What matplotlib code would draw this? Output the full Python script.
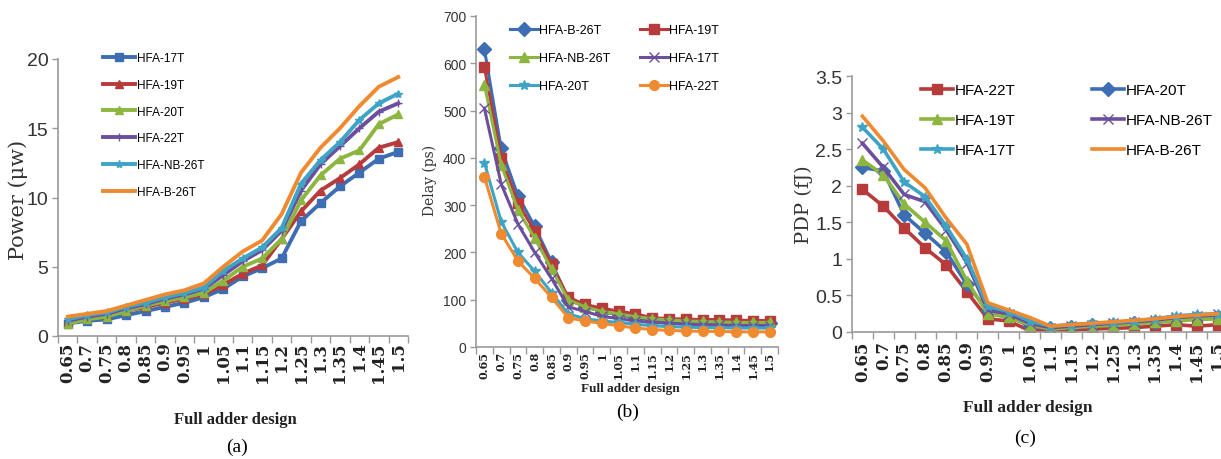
import matplotlib
matplotlib.use("Agg")
import matplotlib.pyplot as plt


VDD = ["0.65", "0.7", "0.75", "0.8", "0.85", "0.9", "0.95", "1", "1.05",
       "1.1", "1.15", "1.2", "1.25", "1.3", "1.35", "1.4", "1.45", "1.5"]

# ==============================
# (a) POWER (uW)
# ==============================
POWER_17T = [0.9, 1.1, 1.2, 1.5, 1.8, 2.1, 2.4, 2.8, 3.4, 4.3, 4.9, 5.6, 8.3, 9.6, 10.8, 11.8, 12.8, 13.3]
POWER_19T = [1.0, 1.3, 1.5, 1.8, 2.1, 2.4, 2.7, 3.0, 3.7, 4.5, 5.1, 7.0, 9.0, 10.5, 11.4, 12.4, 13.6, 14.0]
POWER_20T = [0.9, 1.2, 1.4, 1.8, 2.2, 2.5, 2.8, 3.1, 4.0, 5.0, 5.6, 7.0, 9.8, 11.6, 12.8, 13.4, 15.3, 16.0]
POWER_22T = [1.1, 1.4, 1.6, 2.0, 2.3, 2.7, 3.0, 3.4, 4.4, 5.4, 6.2, 7.6, 10.5, 12.4, 13.7, 15.0, 16.2, 16.8]
POWER_NB26T = [1.2, 1.5, 1.7, 2.1, 2.4, 2.8, 3.1, 3.5, 4.7, 5.6, 6.4, 7.8, 11.0, 12.7, 14.0, 15.6, 16.8, 17.5]
POWER_B26T = [1.4, 1.6, 1.8, 2.2, 2.6, 3.0, 3.3, 3.8, 5.0, 6.1, 6.9, 8.8, 11.8, 13.6, 15.0, 16.6, 18.0, 18.7]

# ==============================
# (b) DELAY (ps)
# ==============================
DELAY_B26T = [630, 420, 320, 255, 180, 100, 85, 75, 68, 62, 58, 55, 53, 52, 51, 50, 50, 50]
DELAY_19T = [592, 400, 305, 245, 175, 105, 90, 82, 76, 70, 62, 60, 59, 58, 58, 57, 56, 56]
DELAY_NB26T = [555, 385, 290, 230, 165, 100, 85, 75, 70, 64, 60, 57, 55, 54, 53, 52, 52, 52]
DELAY_17T = [505, 345, 260, 200, 145, 85, 75, 65, 60, 55, 52, 50, 48, 47, 46, 45, 45, 45]
DELAY_20T = [390, 265, 200, 160, 115, 70, 60, 55, 52, 48, 45, 43, 42, 41, 41, 40, 40, 40]
DELAY_22T = [360, 240, 182, 145, 105, 62, 55, 50, 45, 40, 37, 35, 34, 33, 33, 32, 32, 32]

# ==============================
# (c) PDP (fJ)
# ==============================
PDP_22T = [1.95, 1.72, 1.42, 1.15, 0.92, 0.55, 0.18, 0.15, 0.02, 0.02, 0.03, 0.04, 0.05, 0.06, 0.08, 0.10, 0.08, 0.10]
PDP_20T = [2.25, 2.20, 1.60, 1.35, 1.10, 0.65, 0.30, 0.22, 0.08, 0.05, 0.07, 0.09, 0.10, 0.12, 0.14, 0.17, 0.19, 0.20]
PDP_19T = [2.35, 2.15, 1.75, 1.50, 1.25, 0.70, 0.25, 0.20, 0.10, 0.04, 0.06, 0.08, 0.09, 0.11, 0.13, 0.15, 0.17, 0.18]
PDP_NB26T = [2.58, 2.25, 1.88, 1.78, 1.40, 0.95, 0.30, 0.25, 0.12, 0.06, 0.08, 0.10, 0.12, 0.14, 0.16, 0.20, 0.22, 0.24]
PDP_17T = [2.80, 2.50, 2.05, 1.85, 1.45, 1.00, 0.35, 0.28, 0.15, 0.08, 0.10, 0.12, 0.13, 0.15, 0.18, 0.22, 0.24, 0.25]
PDP_B26T = [2.95, 2.61, 2.22, 1.97, 1.56, 1.20, 0.40, 0.30, 0.20, 0.08, 0.10, 0.12, 0.14, 0.16, 0.18, 0.21, 0.23, 0.25]

AZUL = "#3d6db3"
VERMELHO = "#b83b3b"
VERDE = "#8db640"
ROXO = "#6c4f9c"
CIANO = "#3ea4c6"
LARANJA = "#f08a30"

SANS = ["Liberation Sans Narrow", "Liberation Sans", "DejaVu Sans"]
SERIF = ["DejaVu Serif"]
TIMES = ["Liberation Serif", "DejaVu Serif"]
CINZA = "#9a9a9a"


def estilo_eixo(ax, ymax, ystep, ytick_fmt, ysize, xsize, xpad):
    n = len(VDD)
    ax.set_xlim(-0.5, n - 0.5)
    ax.set_ylim(0, ymax)
    ax.set_xticks(range(n))
    ax.set_xticklabels(VDD, rotation=90, fontsize=xsize, family=SERIF,
                       fontweight="bold", color="#222222")
    ax.set_xticks([i - 0.5 for i in range(n + 1)], minor=True)
    ax.tick_params(axis="x", which="major", length=0, pad=xpad)
    ax.tick_params(axis="x", which="minor", length=5, width=1, color=CINZA, direction="out")

    valores = []
    v = 0.0
    while v <= ymax + 1e-9:
        valores.append(v)
        v += ystep
    ax.set_yticks(valores)
    ax.set_yticklabels([ytick_fmt(x) for x in valores], fontsize=ysize, family=SANS, color="#333333")
    ax.tick_params(axis="y", length=4, width=1, color=CINZA, direction="out", pad=3)

    for lado in ["top", "right"]:
        ax.spines[lado].set_visible(False)
    for lado in ["left", "bottom"]:
        ax.spines[lado].set_color(CINZA)
        ax.spines[lado].set_linewidth(1.2)


def fmt_g(v):
    return f"{v:g}"


def main():
    fig = plt.figure(figsize=(12.21, 4.6), dpi=100)
    x = list(range(len(VDD)))

    # ----- (a) -----
    ax_a = fig.add_axes([58 / 1221, 123 / 460, 350 / 1221, 277 / 460])
    series_a = [
        ("HFA-17T", POWER_17T, AZUL, "s"),
        ("HFA-19T", POWER_19T, VERMELHO, "^"),
        ("HFA-20T", POWER_20T, VERDE, "^"),
        ("HFA-22T", POWER_22T, ROXO, "+"),
        ("HFA-NB-26T", POWER_NB26T, CIANO, "*"),
        ("HFA-B-26T", POWER_B26T, LARANJA, None),
    ]
    for nome, y, cor, mk in series_a:
        ax_a.plot(x, y, color=cor, lw=2.8, marker=mk, ms=6, label=nome)
    estilo_eixo(ax_a, 20, 5, fmt_g, 14, 12, 4)
    ax_a.legend(loc="upper left", bbox_to_anchor=(103 / 1221, 1 - 53 / 460),
                bbox_transform=fig.transFigure, frameon=False, borderpad=0,
                borderaxespad=0, handlelength=2.7, handletextpad=0.2,
                labelspacing=1.25, prop={"family": SANS, "size": 8.5})

    # ----- (b) -----
    ax_b = fig.add_axes([476 / 1221, 112 / 460, 302 / 1221, 331 / 460])
    series_b = [
        ("HFA-B-26T", DELAY_B26T, AZUL, "D"),
        ("HFA-19T", DELAY_19T, VERMELHO, "s"),
        ("HFA-NB-26T", DELAY_NB26T, VERDE, "^"),
        ("HFA-17T", DELAY_17T, ROXO, "x"),
        ("HFA-20T", DELAY_20T, CIANO, "*"),
        ("HFA-22T", DELAY_22T, LARANJA, "o"),
    ]
    linhas_b = {}
    for nome, y, cor, mk in series_b:
        (ln,) = ax_b.plot(x, y, color=cor, lw=2.2, marker=mk, ms=7, label=nome)
        linhas_b[nome] = ln
    estilo_eixo(ax_b, 700, 100, lambda v: f"{v:.0f}", 10, 8, 3)
    ordem_b = ["HFA-B-26T", "HFA-NB-26T", "HFA-20T", "HFA-19T", "HFA-17T", "HFA-22T"]
    ax_b.legend([linhas_b[k] for k in ordem_b], ordem_b, ncol=2, loc="upper left",
                bbox_to_anchor=(510 / 1221, 1 - 25 / 460), bbox_transform=fig.transFigure,
                frameon=False, borderpad=0, borderaxespad=0, handlelength=2.2,
                handletextpad=0.1, labelspacing=1.3, columnspacing=2.4,
                prop={"family": SANS, "size": 9})

    # ----- (c) -----
    ax_c = fig.add_axes([852 / 1221, 127 / 460, 376 / 1221, 256 / 460])
    series_c = [
        ("HFA-22T", PDP_22T, VERMELHO, "s"),
        ("HFA-20T", PDP_20T, AZUL, "D"),
        ("HFA-19T", PDP_19T, VERDE, "^"),
        ("HFA-NB-26T", PDP_NB26T, ROXO, "x"),
        ("HFA-17T", PDP_17T, CIANO, "*"),
        ("HFA-B-26T", PDP_B26T, LARANJA, None),
    ]
    linhas_c = {}
    for nome, y, cor, mk in series_c:
        (ln,) = ax_c.plot(x, y, color=cor, lw=2.6, marker=mk, ms=7, label=nome)
        linhas_c[nome] = ln
    estilo_eixo(ax_c, 3.5, 0.5, fmt_g, 14, 12, 6)
    ordem_c = ["HFA-22T", "HFA-19T", "HFA-17T", "HFA-20T", "HFA-NB-26T", "HFA-B-26T"]
    ax_c.legend([linhas_c[k] for k in ordem_c], ordem_c, ncol=2, loc="upper left",
                bbox_to_anchor=(921 / 1221, 1 - 84 / 460), bbox_transform=fig.transFigure,
                frameon=False, borderpad=0, borderaxespad=0, handlelength=2.1,
                handletextpad=0.1, labelspacing=1.05, columnspacing=5.0,
                prop={"family": SANS, "size": 11})

    # ----- textos -----
    fig.text(18 / 1221, 1 - 200 / 460, "Power (\u03bcw)", rotation=90, ha="center", va="center",
             family=SERIF, fontsize=15, color="#333333")
    fig.text(430 / 1221, 1 - 180 / 460, "Delay (ps)", rotation=90, ha="center", va="center",
             family=SERIF, fontsize=10, color="#333333")
    fig.text(804 / 1221, 1 - 205 / 460, "PDP (fJ)", rotation=90, ha="center", va="center",
             family=SERIF, fontsize=14, color="#333333")

    fig.text(235 / 1221, 1 - 420 / 460, "Full adder design", ha="center", va="center",
             family=TIMES, fontsize=12, fontweight="bold", color="#222222")
    fig.text(630 / 1221, 1 - 389 / 460, "Full adder design", ha="center", va="center",
             family=TIMES, fontsize=9.5, fontweight="bold", color="#222222")
    fig.text(1028 / 1221, 1 - 408 / 460, "Full adder design", ha="center", va="center",
             family=TIMES, fontsize=12.5, fontweight="bold", color="#222222")

    fig.text(237 / 1221, 1 - 447 / 460, "(a)", ha="center", va="center", family=TIMES, fontsize=14)
    fig.text(628 / 1221, 1 - 412 / 460, "(b)", ha="center", va="center", family=TIMES, fontsize=14)
    fig.text(1025 / 1221, 1 - 438 / 460, "(c)", ha="center", va="center", family=TIMES, fontsize=14)

    fig.savefig("out.png", dpi=100)
    plt.close(fig)


if __name__ == "__main__":
    main()
